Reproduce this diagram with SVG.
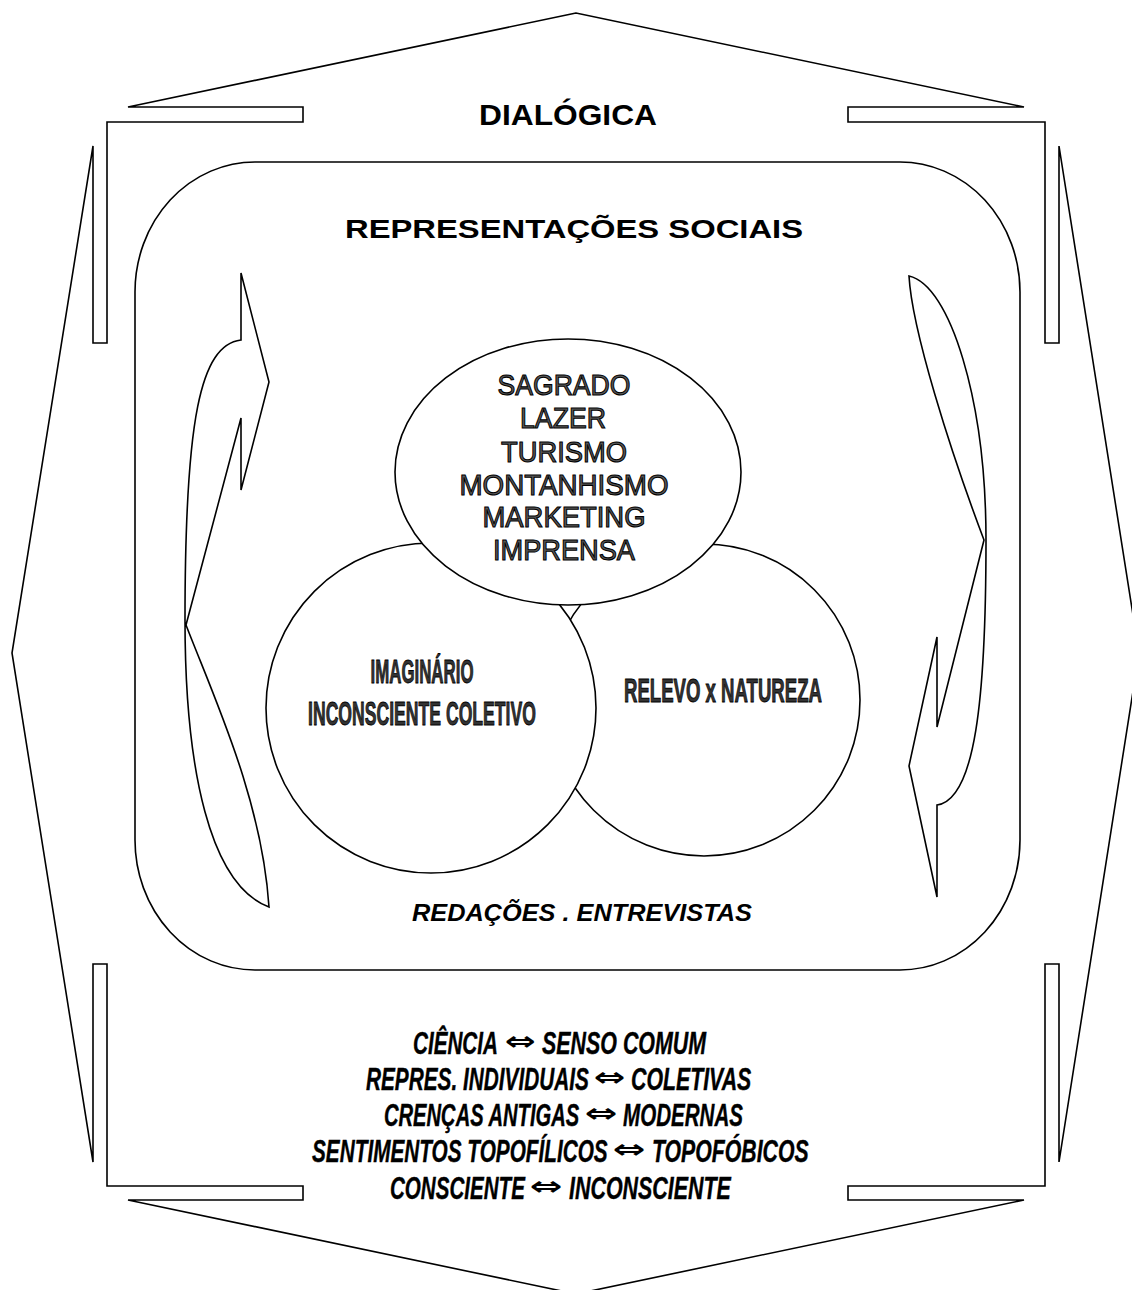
<svg xmlns="http://www.w3.org/2000/svg" width="1132" height="1290" viewBox="0 0 1132 1290">
<style>
.ln{fill:none;stroke:#000;stroke-width:1.6;stroke-linejoin:miter}
.wf{fill:#fff;stroke:#000;stroke-width:1.6}
.hd{font-family:"Liberation Sans",Arial,sans-serif;font-weight:bold;fill:#000;text-anchor:middle}
.it{font-family:"Liberation Sans",Arial,sans-serif;font-weight:bold;font-style:italic;fill:#000;text-anchor:middle}
.hol{font-family:"Liberation Sans",Arial,sans-serif;font-size:30px;fill:#5a5a5a;stroke:#000;stroke-width:1.1;text-anchor:middle}
.cnd{font-family:"Liberation Sans",Arial,sans-serif;font-weight:bold;font-size:34px;fill:#333;stroke:#000;stroke-width:0.9;text-anchor:middle}
.bt{font-family:"Liberation Sans",Arial,sans-serif;font-weight:bold;font-style:italic;font-size:32px;fill:#000;stroke:#000;stroke-width:0.4}
.ar{font-family:"DejaVu Sans",sans-serif;font-weight:bold;font-size:26px;fill:#000}
</style>
<rect width="1132" height="1290" fill="#fff"/>
<g id="frame">
<path class="ln" d="M576,13 L128,107 L303,107 L303,122 L107,122 L107,343 L93,343 L93,146 L12,653 L93,1162 L93,964 L107,964 L107,1186 L303,1186 L303,1200 L128,1200 L576,1294 L1024,1200 L848,1200 L848,1186 L1045,1186 L1045,964 L1059,964 L1059,1162 L1139,653 L1059,146 L1059,343 L1045,343 L1045,122 L848,122 L848,107 L1024,107 Z"/>
<text class="hd" x="568" y="125" font-size="30" textLength="178" lengthAdjust="spacingAndGlyphs">DIALÓGICA</text>
</g>
<g id="panel">
<rect class="ln" x="135" y="162" width="885" height="808" rx="120" ry="130"/>
<text class="hd" x="574" y="238" font-size="26" textLength="458" lengthAdjust="spacingAndGlyphs">REPRESENTAÇÕES SOCIAIS</text>
<text class="it" x="582" y="921" font-size="23" textLength="340" lengthAdjust="spacingAndGlyphs">REDAÇÕES . ENTREVISTAS</text>
</g>
<g id="connectors">
<path id="arrow-left" class="wf" d="M241,273 L269,382 L241,490 L241,418 L186,625 C215,700 262,800 269,907 C210,885 185,770 185,620 C185,420 200,345 241,340 Z"/>
<path id="arrow-right" class="wf" d="M909,276 C950,285 986,400 986,540 C986,700 975,800 937,805 L937,897 L909,766 L937,637 L937,727 L984,540 C950,450 912,330 909,276 Z"/>
</g>
<g id="circle-right">
<circle class="wf" cx="704" cy="700" r="156"/>
<text class="cnd" transform="translate(723,702) scale(0.547,1)" x="0" y="0">RELEVO x NATUREZA</text>
</g>
<g id="circle-left">
<circle class="wf" cx="431" cy="708" r="165"/>
<text class="cnd" transform="translate(422,683) scale(0.496,1)" x="0" y="0">IMAGINÁRIO</text>
<text class="cnd" transform="translate(422,725) scale(0.518,1)" x="0" y="0">INCONSCIENTE COLETIVO</text>
</g>
<g id="circle-top">
<ellipse class="wf" cx="568" cy="472" rx="173" ry="133"/>
<text class="hol" x="564" y="395" textLength="133" lengthAdjust="spacingAndGlyphs">SAGRADO</text>
<text class="hol" x="563" y="428" textLength="86" lengthAdjust="spacingAndGlyphs">LAZER</text>
<text class="hol" x="564" y="462" textLength="126" lengthAdjust="spacingAndGlyphs">TURISMO</text>
<text class="hol" x="564" y="495" textLength="209" lengthAdjust="spacingAndGlyphs">MONTANHISMO</text>
<text class="hol" x="564" y="527" textLength="163" lengthAdjust="spacingAndGlyphs">MARKETING</text>
<text class="hol" x="564" y="560" textLength="142" lengthAdjust="spacingAndGlyphs">IMPRENSA</text>
</g>
<g id="dialectics">
<text class="bt" transform="translate(413,1054) scale(0.646,1)">CIÊNCIA</text>
<text class="ar" transform="translate(505,1050) scale(1.42,1)">⇔</text>
<text class="bt" transform="translate(542,1054) scale(0.669,1)">SENSO COMUM</text>
<text class="bt" transform="translate(366,1090) scale(0.650,1)">REPRES. INDIVIDUAIS</text>
<text class="ar" transform="translate(594,1086) scale(1.45,1)">⇔</text>
<text class="bt" transform="translate(631,1090) scale(0.666,1)">COLETIVAS</text>
<text class="bt" transform="translate(384,1126) scale(0.630,1)">CRENÇAS ANTIGAS</text>
<text class="ar" transform="translate(585,1122) scale(1.50,1)">⇔</text>
<text class="bt" transform="translate(623,1126) scale(0.643,1)">MODERNAS</text>
<text class="bt" transform="translate(312,1162) scale(0.649,1)">SENTIMENTOS TOPOFÍLICOS</text>
<text class="ar" transform="translate(613,1158) scale(1.50,1)">⇔</text>
<text class="bt" transform="translate(652,1162) scale(0.664,1)">TOPOFÓBICOS</text>
<text class="bt" transform="translate(390,1199) scale(0.643,1)">CONSCIENTE</text>
<text class="ar" transform="translate(530,1195) scale(1.50,1)">⇔</text>
<text class="bt" transform="translate(569,1199) scale(0.670,1)">INCONSCIENTE</text>
</g>
</svg>
